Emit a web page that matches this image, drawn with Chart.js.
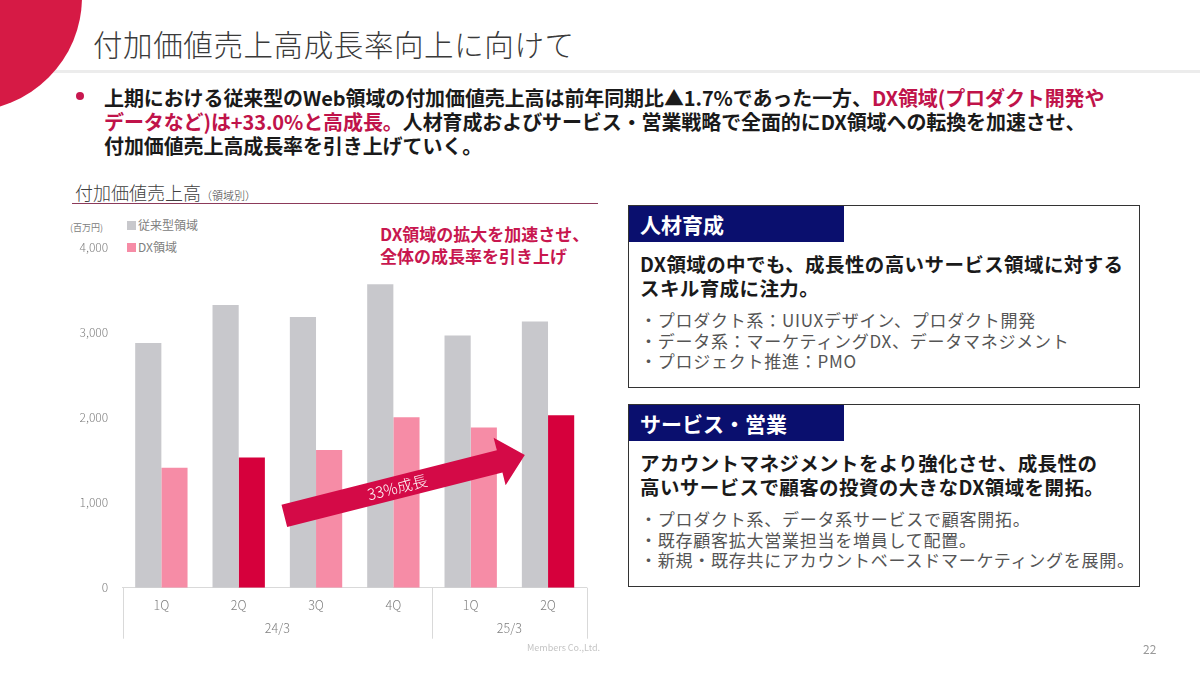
<!DOCTYPE html>
<html lang="ja">
<head>
<meta charset="utf-8">
<script src="https://cdn.jsdelivr.net/npm/chart.js@4.4.1/dist/chart.umd.min.js"></script>
<style>
  body { margin: 0; width: 1200px; height: 675px; position: relative; overflow: hidden; background: #fff;
         font-family: "Noto Sans CJK JP", "Noto Sans", sans-serif; color: #1a1a1a; }
  .abs { position: absolute; white-space: nowrap; }
  .corner { position: absolute; left: -146px; top: -117px; width: 228px; height: 228px; border-radius: 50%; background: #d61a45; }
  .rule { position: absolute; left: 0; top: 70px; width: 1200px; height: 3px; background: #ececec; }
  .title { left: 93px; top: 22px; font-size: 29.5px; font-weight: 300; color: #3a3a3a; letter-spacing: 0.6px; }
  .dot { position: absolute; left: 76px; top: 92px; width: 8px; height: 8px; border-radius: 50%; background: #c8174f; }
  .lead { left: 104px; top: 86px; font-size: 20px; font-weight: 700; line-height: 24px; letter-spacing: -0.1px; }
  .lead .hl { color: #c0134a; }
  .sub { left: 75px; top: 179px; font-size: 18px; font-weight: 300; color: #404040; }
  .sub small { font-size: 11px; }
  .subrule { position: absolute; left: 72px; top: 203px; width: 526px; height: 1px; background: #8c3a5a; }
  .unit { left: 70px; top: 221px; font-size: 9px; color: #808080; }
  .leg { font-size: 12px; color: #808080; }
  .leg i { display: inline-block; width: 9px; height: 9px; margin-right: 2px; vertical-align: 0px; }
  .callout { left: 380px; top: 223px; font-size: 17px; font-weight: 700; line-height: 22px; color: #c8174f; }
  .box { position: absolute; left: 628px; width: 512px; height: 183px; border: 1px solid #333; box-sizing: border-box; }
  .box .head { position: absolute; left: 0; top: 0; width: 215px; height: 36px; background: #0a0f6e; color: #fff;
               font-size: 21px; font-weight: 700; line-height: 36px; padding-left: 11px; box-sizing: border-box; }
  .box .main { position: absolute; left: 11px; top: 46px; font-size: 19.5px; font-weight: 700; line-height: 24px; white-space: nowrap; letter-spacing: 0.4px; }
  .box .pts { position: absolute; left: 11px; top: 104px; font-size: 17px; line-height: 20.5px; color: #555; white-space: nowrap; letter-spacing: 0.75px; }
  .foot { left: 527px; top: 641px; font-size: 9px; color: #c4c4c4; }
  .page { left: 1143px; top: 640px; font-size: 12px; color: #999; }
  #wrap { position: absolute; left: 60px; top: 215px; width: 540px; height: 430px; }
</style>
</head>
<body>
<div class="rule"></div>
<div class="corner"></div>
<div class="abs title">付加価値売上高成長率向上に向けて</div>
<div class="dot"></div>
<div class="abs lead">上期における従来型のWeb領域の付加価値売上高は前年同期比▲1.7%であった一方、<span class="hl">DX領域(プロダクト開発や</span><br><span class="hl">データなど)は+33.0%と高成長。</span>人材育成およびサービス・営業戦略で全面的にDX領域への転換を加速させ、<br>付加価値売上高成長率を引き上げていく。</div>

<div class="abs sub">付加価値売上高<small>（領域別）</small></div>
<div class="subrule"></div>
<div class="abs unit">(百万円)</div>
<div class="abs leg" style="left:127px;top:216px"><i style="background:#c8c8cc"></i>従来型領域</div>
<div class="abs leg" style="left:127px;top:238px"><i style="background:#f68ca6"></i>DX領域</div>
<div class="abs callout">DX領域の拡大を加速させ、<br>全体の成長率を引き上げ</div>
<div id="wrap"><canvas id="chart"></canvas></div>

<div class="box" style="top:205px">
  <div class="head">人材育成</div>
  <div class="main">DX領域の中でも、成長性の高いサービス領域に対する<br>スキル育成に注力。</div>
  <div class="pts">・プロダクト系：UIUXデザイン、プロダクト開発<br>・データ系：マーケティングDX、データマネジメント<br>・プロジェクト推進：PMO</div>
</div>
<div class="box" style="top:404px">
  <div class="head">サービス・営業</div>
  <div class="main">アカウントマネジメントをより強化させ、成長性の<br>高いサービスで顧客の投資の大きなDX領域を開拓。</div>
  <div class="pts">・プロダクト系、データ系サービスで顧客開拓。<br>・既存顧客拡大営業担当を増員して配置。<br>・新規・既存共にアカウントベースドマーケティングを展開。</div>
</div>

<div class="abs foot">Members Co.,Ltd.</div>
<div class="abs page">22</div>

<script>
// data (百万円)
const QUARTERS = ['1Q', '2Q', '3Q', '4Q', '1Q', '2Q'];
const FISCAL_GROUPS = [
    { label: '24/3', from: 0, to: 3 },
    { label: '25/3', from: 4, to: 5 },
];
const LEGACY_VALUES = [2878, 3325, 3184, 3569, 2965, 3129];
const DX_VALUES = [1409, 1530, 1620, 2004, 1883, 2027];
const Y_TICKS = [0, 1000, 2000, 3000, 4000];
const HIGHLIGHT_QUARTER = '2Q';

// arrow annotation, in (category index, value) terms
const GROWTH_ARROW = { from: [1.59, 845], to: [4.70, 1560], text: '33%成長' };

const GRAY = '#c8c8cc';
const PINK = '#f68ca6';
const CRIMSON = '#d6003c';
const AXIS_LINE = '#d9d9d9';
const TICK_COLOR = '#808080';
const FONT = '"Noto Sans CJK JP", "Noto Sans", sans-serif';

// ── fiscal-year band under the quarter labels ──
const groupAxis = {
    id: 'groupAxis',
    afterDraw(chart) {
        const { ctx, chartArea } = chart;
        const x = chart.scales.x;
        const top = chartArea.bottom;
        const bottom = chartArea.bottom + 51;
        ctx.save();
        ctx.strokeStyle = AXIS_LINE;
        ctx.lineWidth = 1;
        ctx.fillStyle = TICK_COLOR;
        ctx.font = `300 12.5px ${FONT}`;
        ctx.textAlign = 'center';
        ctx.textBaseline = 'middle';
        FISCAL_GROUPS.forEach((g, i) => {
            const l = x.getPixelForValue(g.from - 0.5);
            const r = x.getPixelForValue(g.to + 0.5);
            ctx.beginPath();
            ctx.moveTo(Math.round(l) + 0.5, top);
            ctx.lineTo(Math.round(l) + 0.5, bottom);
            if (i === FISCAL_GROUPS.length - 1) {
                ctx.moveTo(Math.round(r) + 0.5, top);
                ctx.lineTo(Math.round(r) + 0.5, bottom);
            }
            ctx.stroke();
            ctx.fillText(g.label, (l + r) / 2, chartArea.bottom + 41);
        });
        ctx.restore();
    }
};

// ── big growth arrow over the bars ──
const growthArrow = {
    id: 'growthArrow',
    afterDatasetsDraw(chart) {
        const { ctx } = chart;
        const { x, y } = chart.scales;
        const x0 = x.getPixelForValue(GROWTH_ARROW.from[0]), y0 = y.getPixelForValue(GROWTH_ARROW.from[1]);
        const x1 = x.getPixelForValue(GROWTH_ARROW.to[0]), y1 = y.getPixelForValue(GROWTH_ARROW.to[1]);
        const len = Math.hypot(x1 - x0, y1 - y0);
        const ang = Math.atan2(y1 - y0, x1 - x0);
        const body = 11.5, head = 24.5, headLen = 26;
        ctx.save();
        ctx.translate(x0, y0);
        ctx.rotate(ang);
        ctx.fillStyle = '#d40a47';
        ctx.beginPath();
        ctx.moveTo(0, -body);
        ctx.lineTo(len - headLen, -body);
        ctx.lineTo(len - headLen, -head);
        ctx.lineTo(len, 0);
        ctx.lineTo(len - headLen, head);
        ctx.lineTo(len - headLen, body);
        ctx.lineTo(0, body);
        ctx.closePath();
        ctx.fill();
        ctx.fillStyle = '#fff';
        ctx.font = `300 15.5px ${FONT}`;
        ctx.textAlign = 'center';
        ctx.textBaseline = 'middle';
        ctx.fillText(GROWTH_ARROW.text, len * 0.47, 0);
        ctx.restore();
    }
};

new Chart(document.getElementById('chart'), {
    type: 'bar',
    data: {
        labels: QUARTERS,
        datasets: [
            { label: '従来型領域', data: LEGACY_VALUES, backgroundColor: GRAY },
            {
                label: 'DX領域',
                data: DX_VALUES,
                backgroundColor: c => QUARTERS[c.dataIndex] === HIGHLIGHT_QUARTER ? CRIMSON : PINK,
            },
        ]
    },
    options: {
        responsive: true,
        maintainAspectRatio: false,
        animation: false,
        datasets: { bar: { barPercentage: 1, categoryPercentage: 0.677, borderWidth: 0 } },
        layout: { padding: { left: 0, right: 13.3, top: 32.5, bottom: 5.3 } },
        scales: {
            x: {
                grid: { display: false, drawTicks: false },
                border: { display: true, color: AXIS_LINE, width: 1 },
                ticks: { color: TICK_COLOR, padding: 10, font: { family: FONT, size: 12.5, weight: '300' } },
                afterFit: s => { s.height = 52; }
            },
            y: {
                min: 0, max: 4000,
                grid: { display: false, drawTicks: false },
                border: { display: false },
                afterBuildTicks: s => { s.ticks = Y_TICKS.map(v => ({ value: v })); },
                ticks: {
                    color: TICK_COLOR, padding: 14.5,
                    font: { family: FONT, size: 12, weight: '300' },
                    callback: v => v.toLocaleString('en-US')
                },
                afterFit: s => { s.width = 62.7; }
            }
        },
        plugins: {
            legend: { display: false },
            tooltip: { enabled: false }
        }
    },
    plugins: [groupAxis, growthArrow]
});
</script>
</body>
</html>
